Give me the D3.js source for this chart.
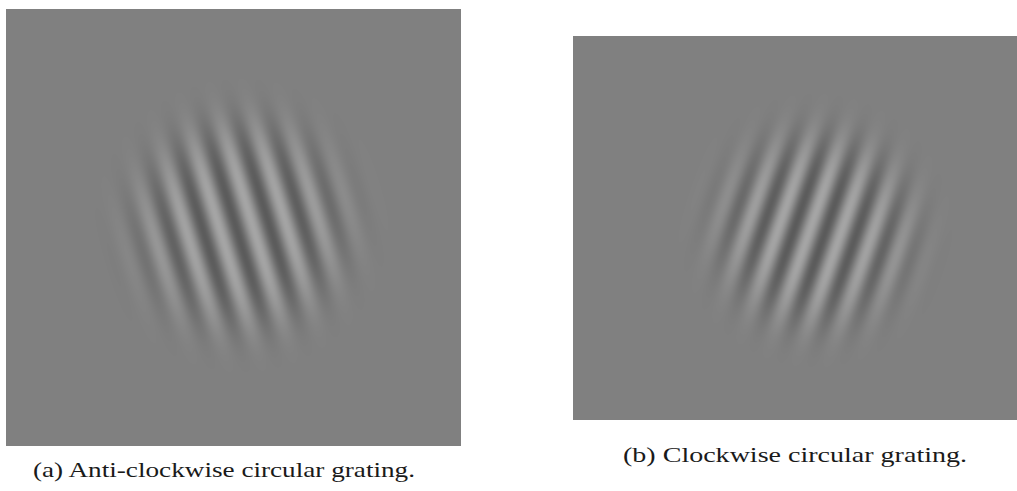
<!DOCTYPE html>
<html>
<head>
<meta charset="utf-8">
<script src="https://cdn.jsdelivr.net/npm/d3@7"></script>
<style>
  html, body { margin: 0; padding: 0; background: #ffffff; }
  svg { display: block; }
</style>
</head>
<body>
<svg id="chart" width="1017" height="491"></svg>
<script>
// ---- data ----
const panels        = ["a", "b"];
const captions      = ["(a) Anti-clockwise circular grating.", "(b) Clockwise circular grating."];
const tiltDeg       = [17, -19];        // stripe tilt from vertical (+ = "\" , - = "/")
const periodPx      = [34, 32];         // horizontal spacing of stripes
const envelopeR     = [102, 95];        // soft radius of the circular window
const envelopeCX    = [235, 242];       // envelope centre inside the image (image px)
const envelopeCY    = [216, 194];
const darkStripeX   = [229, 222];       // a dark stripe passes through this point (image px)
const darkStripeY   = [216, 189];
const contrast      = [37, 37];
const background    = 128;

// ---- layout ----
const frames = [
  { x: 6,   y: 9,  w: 455, h: 437, capX: 33,  capY: 477, capW: 382 },
  { x: 573, y: 36, w: 444, h: 384, capX: 623, capY: 462, capW: 344 }
];

const svg = d3.select("#chart");

function renderGrating(i) {
  const f = frames[i];
  const W = f.w, H = f.h;
  const canvas = document.createElement("canvas");
  canvas.width = W; canvas.height = H;
  const ctx = canvas.getContext("2d");
  const img = ctx.createImageData(W, H);
  const th = tiltDeg[i] * Math.PI / 180;
  const P = periodPx[i] * Math.cos(th);
  const c = Math.cos(th), s = Math.sin(th);
  for (let py = 0; py < H; py++) {
    for (let px = 0; px < W; px++) {
      const dx = px - envelopeCX[i], dy = py - envelopeCY[i];
      const r = Math.sqrt(dx * dx + dy * dy) / envelopeR[i];
      const env = Math.exp(-Math.pow(r, 4));
      const d = (px - darkStripeX[i]) * c - (py - darkStripeY[i]) * s;
      const v = background - contrast[i] * env * Math.cos(2 * Math.PI * d / P);
      const k = (py * W + px) * 4;
      const g = Math.max(0, Math.min(255, Math.round(v)));
      img.data[k] = g; img.data[k + 1] = g; img.data[k + 2] = g; img.data[k + 3] = 255;
    }
  }
  ctx.putImageData(img, 0, 0);
  return canvas.toDataURL("image/png");
}

panels.forEach((p, i) => {
  const f = frames[i];
  const xs = d3.scaleLinear().domain([0, f.w]).range([f.x, f.x + f.w]);
  const ys = d3.scaleLinear().domain([0, f.h]).range([f.y, f.y + f.h]);
  const g = svg.append("g").attr("class", "panel panel-" + p);
  g.append("image")
    .attr("x", xs(0)).attr("y", ys(0))
    .attr("width", xs(f.w) - xs(0)).attr("height", ys(f.h) - ys(0))
    .attr("preserveAspectRatio", "none")
    .attr("href", renderGrating(i));
  g.append("text")
    .attr("x", f.capX).attr("y", f.capY)
    .attr("textLength", f.capW)
    .attr("lengthAdjust", "spacingAndGlyphs")
    .style("font-family", "'Liberation Serif', 'DejaVu Serif', serif")
    .style("font-size", "21px")
    .style("fill", "#1a1a1a")
    .text(captions[i]);
});
</script>
</body>
</html>
